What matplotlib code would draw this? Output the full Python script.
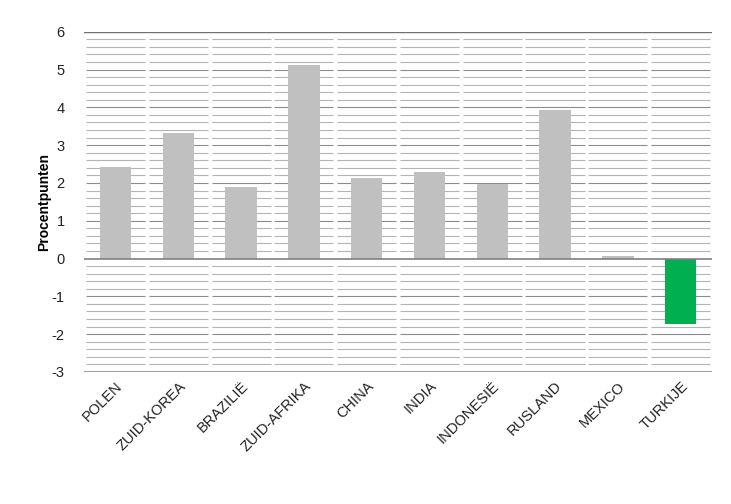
import numpy as np
import matplotlib
matplotlib.use("Agg")
import matplotlib.pyplot as plt

plt.rcParams['font.family'] = ['Liberation Sans', 'DejaVu Sans']
plt.rcParams['axes.unicode_minus'] = False

landen = ['POLEN', 'ZUID-KOREA', 'BRAZILIË', 'ZUID-AFRIKA', 'CHINA',
          'INDIA', 'INDONESIË', 'RUSLAND', 'MEXICO', 'TURKIJE']
waarden = [2.41, 3.31, 1.90, 5.11, 2.12, 2.28, 1.98, 3.94, 0.06, -1.72]
kleuren = ['#c0c0c0'] * 9 + ['#00b050']

fig = plt.figure(figsize=(7.31, 5.04), dpi=100)
ax = fig.add_axes([0.115, 0.262, 0.859, 0.675])

x = np.arange(len(landen))

# gridlines every 0.2, broken at category edges
for yv in np.arange(-2.8, 6.0, 0.2):
    if abs(yv) < 1e-6:
        continue
    c = '#8c8c8c' if abs(yv - round(yv)) < 1e-6 else '#b4b4b4'
    ax.hlines(np.full(len(x), yv), x - 0.47, x + 0.47, color=c, lw=0.8, zorder=1)

ax.bar(x, waarden, width=0.5, color=kleuren, zorder=2)

ax.axhline(6, color='#707070', lw=1.0, zorder=3)
ax.axhline(0, color='#808080', lw=1.2, zorder=3)
ax.axhline(-3, color='#a0a0a0', lw=1.5, zorder=3)

ax.set_xlim(-0.5, len(landen) - 0.5)
ax.set_ylim(-3, 6)
ax.set_yticks(range(-3, 7))
ax.set_xticks(x)
ax.set_xticklabels(landen, rotation=45, ha='right', rotation_mode='anchor', fontsize=10.5)
ax.tick_params(axis='both', length=0, labelsize=10.5, colors='#222222')
ax.tick_params(axis='y', pad=14)
ax.tick_params(axis='x', pad=5)
for s in ax.spines.values():
    s.set_visible(False)

ax.set_ylabel('Procentpunten', fontsize=10, fontweight='bold', labelpad=0)

fig.savefig('out.png', dpi=100)
